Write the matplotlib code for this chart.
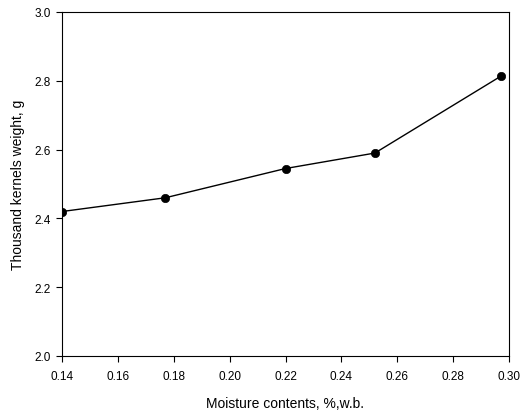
import matplotlib
matplotlib.use("Agg")
import matplotlib.pyplot as plt

# Thousand kernels weight vs moisture content
moisture = [0.14, 0.177, 0.22, 0.252, 0.297]
weight = [2.42, 2.46, 2.545, 2.59, 2.813]

x_ticks = [0.14, 0.16, 0.18, 0.20, 0.22, 0.24, 0.26, 0.28, 0.30]
y_ticks = [2.0, 2.2, 2.4, 2.6, 2.8, 3.0]

plt.rcParams["font.family"] = ["Liberation Sans", "DejaVu Sans"]

dpi = 100
fig = plt.figure(figsize=(522 / dpi, 414 / dpi), dpi=dpi)
ax = fig.add_axes([62 / 522, 1 - 357 / 414, 447 / 522, 344 / 414])

ax.plot(moisture, weight, color="black", linewidth=1.0,
        marker="o", markersize=6, markeredgewidth=0.5,
        markerfacecolor="black")

ax.set_xlim(0.14, 0.30)
ax.set_ylim(2.0, 3.0)
ax.set_xticks(x_ticks)
ax.set_xticklabels([f"{t:.2f}" for t in x_ticks])
ax.set_yticks(y_ticks)
ax.set_yticklabels([f"{t:.1f}" for t in y_ticks])

ax.tick_params(direction="out", length=4, width=0.8, labelsize=8.5,
               top=False, right=False)
ax.tick_params(axis="x", pad=6)
ax.tick_params(axis="y", pad=4)
for side in ax.spines.values():
    side.set_linewidth(0.8)

ax.set_xlabel("Moisture contents, %,w.b.", fontsize=10, labelpad=10)
ax.set_ylabel("Thousand kernels weight, g", fontsize=10, labelpad=7)

fig.savefig("out.png", dpi=dpi)
